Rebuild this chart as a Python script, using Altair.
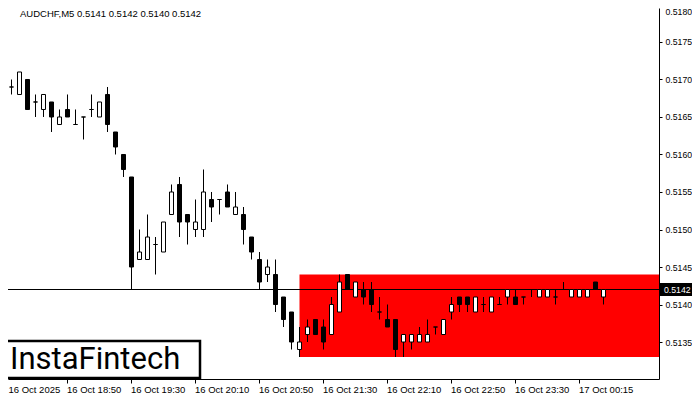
import altair as alt
import pandas as pd

# ---- data ----
opens = [0.5169, 0.5169, 0.5168, 0.5170, 0.5167, 0.5166, 0.5167, 0.5164, 0.5166, 0.5164,
         0.5165, 0.5166, 0.5165, 0.5168, 0.5163, 0.5160, 0.5157, 0.5146, 0.5146, 0.5148,
         0.5147, 0.5152, 0.5156, 0.5152, 0.5150, 0.5150, 0.5154, 0.5154, 0.5155, 0.5152,
         0.5152, 0.5149, 0.5146, 0.5144, 0.5144, 0.5141, 0.5139, 0.5134, 0.5136, 0.5138,
         0.5137, 0.5136, 0.5139, 0.5144, 0.5141, 0.5142, 0.5142, 0.5139, 0.5138, 0.5138,
         0.5135, 0.5135, 0.5135, 0.5135, 0.5137, 0.5136, 0.5139, 0.5141, 0.5141, 0.5139,
         0.5140, 0.5139, 0.5140, 0.5141, 0.5141, 0.5141, 0.5142, 0.5141, 0.5141, 0.5141,
         0.5142, 0.5141, 0.5141, 0.5141, 0.5143, 0.5141]
highs = [0.5171, 0.5170, 0.5171, 0.5170, 0.5168, 0.5168, 0.5167, 0.5166, 0.5168, 0.5166,
         0.5165, 0.5168, 0.5167, 0.5169, 0.5163, 0.5160, 0.5157, 0.5150, 0.5152, 0.5149,
         0.5151, 0.5156, 0.5157, 0.5152, 0.5154, 0.5158, 0.5155, 0.5154, 0.5156, 0.5155,
         0.5153, 0.5149, 0.5147, 0.5146, 0.5146, 0.5141, 0.5139, 0.5137, 0.5138, 0.5138,
         0.5138, 0.5141, 0.5144, 0.5144, 0.5143, 0.5143, 0.5143, 0.5141, 0.5140, 0.5138,
         0.5136, 0.5136, 0.5137, 0.5138, 0.5137, 0.5138, 0.5141, 0.5141, 0.5141, 0.5141,
         0.5141, 0.5141, 0.5141, 0.5142, 0.5142, 0.5141, 0.5142, 0.5142, 0.5142, 0.5142,
         0.5143, 0.5142, 0.5142, 0.5142, 0.5143, 0.5142]
lows = [0.5169, 0.5168, 0.5168, 0.5166, 0.5165, 0.5165, 0.5163, 0.5164, 0.5165, 0.5164,
        0.5162, 0.5165, 0.5165, 0.5163, 0.5160, 0.5157, 0.5142, 0.5146, 0.5146, 0.5144,
        0.5147, 0.5152, 0.5149, 0.5148, 0.5149, 0.5149, 0.5151, 0.5152, 0.5153, 0.5152,
        0.5148, 0.5146, 0.5142, 0.5143, 0.5139, 0.5137, 0.5134, 0.5133, 0.5135, 0.5136,
        0.5134, 0.5136, 0.5139, 0.5142, 0.5141, 0.5140, 0.5139, 0.5138, 0.5137, 0.5133,
        0.5133, 0.5134, 0.5135, 0.5135, 0.5136, 0.5136, 0.5138, 0.5139, 0.5139, 0.5139,
        0.5139, 0.5139, 0.5140, 0.5140, 0.5140, 0.5140, 0.5141, 0.5141, 0.5141, 0.5140,
        0.5142, 0.5141, 0.5141, 0.5141, 0.5142, 0.5140]
closes = [0.5170, 0.5169, 0.5171, 0.5166, 0.5167, 0.5168, 0.5165, 0.5165, 0.5165, 0.5164,
          0.5165, 0.5166, 0.5167, 0.5164, 0.5161, 0.5158, 0.5145, 0.5147, 0.5149, 0.5148,
          0.5151, 0.5155, 0.5151, 0.5151, 0.5151, 0.5155, 0.5153, 0.5154, 0.5153, 0.5153,
          0.5150, 0.5147, 0.5143, 0.5145, 0.5140, 0.5138, 0.5135, 0.5135, 0.5137, 0.5136,
          0.5135, 0.5140, 0.5143, 0.5142, 0.5143, 0.5141, 0.5140, 0.5139, 0.5137, 0.5134,
          0.5136, 0.5136, 0.5136, 0.5136, 0.5137, 0.5138, 0.5140, 0.5140, 0.5140, 0.5141,
          0.5140, 0.5141, 0.5140, 0.5142, 0.5140, 0.5141, 0.5142, 0.5142, 0.5142, 0.5141,
          0.5142, 0.5142, 0.5142, 0.5142, 0.5142, 0.5142]

time_tick_index = [0, 8, 16, 24, 32, 40, 48, 56, 64, 72]
time_tick_labels = ["16 Oct 2025", "16 Oct 18:50", "16 Oct 19:30", "16 Oct 20:10",
                    "16 Oct 20:50", "16 Oct 21:30", "16 Oct 22:10", "16 Oct 22:50",
                    "16 Oct 23:30", "17 Oct 00:15"]
price_ticks = [0.5135, 0.5140, 0.5145, 0.5150, 0.5155, 0.5160, 0.5165, 0.5170, 0.5175]
top_price_label = "0.5180"

zone_start_index = 37
zone_end_index = 90
zone_low = 0.5133
zone_high = 0.5144
last_price = 0.5142
header_text = "AUDCHF,M5  0.5141 0.5142 0.5140 0.5142"
logo_text = "InstaFintech"

FONT = "Liberation Sans"

# ---- tables ----
candles = pd.DataFrame({
    "i": list(range(len(opens))),
    "open": opens, "high": highs, "low": lows, "close": closes,
})
candles["dir"] = ["up" if c >= o else "down" for o, c in zip(opens, closes)]
zone = pd.DataFrame({"x": [zone_start_index], "x2": [zone_end_index],
                     "lo": [zone_low], "hi": [zone_high]})
last = pd.DataFrame({"p": [last_price], "label": [f"{last_price:.4f}"]})
one = pd.DataFrame({"t": [header_text], "logo": [logo_text], "top": [top_price_label]})
xticks = pd.DataFrame({"i": time_tick_index, "lab": time_tick_labels})

x_scale = alt.Scale(domain=[0.5625, 81.9375], nice=False, zero=False, padding=0)
y_scale = alt.Scale(domain=[0.5130067, 0.5179533], nice=False, zero=False, padding=0)

x_axis = alt.Axis(orient="bottom", grid=False, title=None, domainColor="black",
                  domainWidth=1, ticks=False, labels=False)
y_axis = alt.Axis(values=price_ticks, format=".4f", orient="right", grid=False,
                  title=None, domainColor="black", domainWidth=1, tickColor="black",
                  tickSize=3, tickWidth=1, labelAlign="left", labelBaseline="middle",
                  labelPadding=3, labelFont=FONT, labelFontSize=8.7,
                  labelColor="black", labelFlush=False, labelOverlap=False)

X = alt.X("i:Q", scale=x_scale, axis=x_axis)

zone_layer = alt.Chart(zone).mark_rect(color="#FF0000", clip=True).encode(
    x=alt.X("x:Q", scale=x_scale, axis=x_axis), x2="x2:Q",
    y=alt.Y("lo:Q", scale=y_scale, axis=y_axis), y2="hi:Q")

price_line = alt.Chart(last).mark_rule(color="black", strokeWidth=1).encode(
    y=alt.Y("p:Q", scale=y_scale, axis=y_axis))

wicks = alt.Chart(candles).mark_rule(color="black", strokeWidth=1, clip=True).encode(
    x=X, y=alt.Y("low:Q", scale=y_scale, axis=y_axis), y2="high:Q")

bodies = alt.Chart(candles).mark_bar(size=4, stroke="black", strokeWidth=1, clip=True).encode(
    x=X, y=alt.Y("open:Q", scale=y_scale, axis=y_axis), y2="close:Q",
    fill=alt.Fill("dir:N", scale=alt.Scale(domain=["up", "down"], range=["white", "black"]),
                  legend=None))

# time axis ticks and labels (placed through the x scale)
xtick_marks = alt.Chart(xticks).mark_rule(color="black", strokeWidth=1).encode(
    x=X, y=alt.value(371.5), y2=alt.value(375.5))
xlabels_rest = alt.Chart(xticks).transform_filter("datum.i > 0").mark_text(
    align="left", baseline="top", font=FONT, fontSize=9.5, color="black", dx=-0.5).encode(
    x=X, y=alt.value(377), text="lab:N")
xlabel_first = alt.Chart(xticks).transform_filter("datum.i == 0").mark_text(
    align="left", baseline="top", font=FONT, fontSize=9.5, color="black", dx=5).encode(
    x=X, y=alt.value(377), text="lab:N")

top_label = alt.Chart(one).mark_text(align="left", baseline="middle", font=FONT,
                                     fontSize=8.7, color="black").encode(
    x=alt.value(657.5), y=alt.value(4), text="top:N")

logo_box = alt.Chart(one).mark_rect(fill="white", stroke="black", strokeWidth=2.5).encode(
    x=alt.value(-6), x2=alt.value(192), y=alt.value(333), y2=alt.value(370))

logo = alt.Chart(one).mark_text(align="left", baseline="alphabetic", font="Roboto",
                                fontSize=31, color="black").encode(
    x=alt.value(2), y=alt.value(361), text="logo:N")

header = alt.Chart(one).mark_text(align="left", baseline="middle", font=FONT,
                                  fontSize=9.5, color="black").encode(
    x=alt.value(12), y=alt.value(6), text="t:N")

tag_shape = "M-1,-0.33L1,-0.33L1,0.33L-1,0.33Z"
tag = alt.Chart(last).mark_point(shape=tag_shape, size=1600, filled=True, color="black",
                                 opacity=1, strokeWidth=0).encode(
    x=alt.value(672), y=alt.Y("p:Q", scale=y_scale, axis=y_axis))

tag_text = alt.Chart(last).mark_text(align="left", baseline="middle", font=FONT,
                                     fontSize=8.7, color="white").encode(
    x=alt.value(656), y=alt.Y("p:Q", scale=y_scale, axis=y_axis), text="label:N")

chart = alt.layer(zone_layer, price_line, wicks, bodies, xtick_marks, xlabels_rest,
                  xlabel_first, top_label, logo_box, logo, header,
                  tag, tag_text).properties(
    width=651, height=371,
    autosize=alt.AutoSizeParams(type="none"),
    padding={"left": 0, "top": 0, "right": 33, "bottom": 17},
    background="white",
).configure_view(stroke=None)

chart.save("out.html", embed_options={"renderer": "svg", "actions": False})
